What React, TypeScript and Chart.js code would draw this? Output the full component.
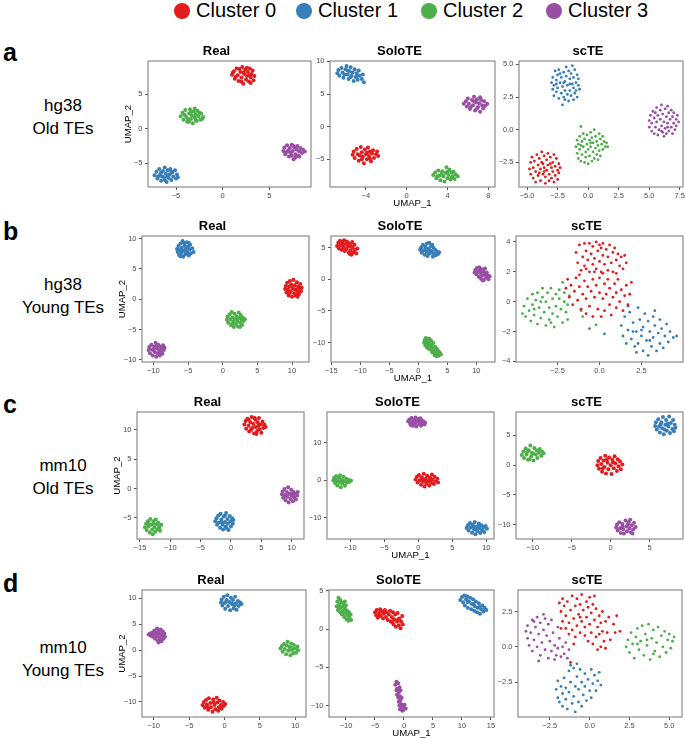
import React, { useEffect, useRef } from "react";
import { Chart, registerables } from "chart.js";
Chart.register(...registerables);

const FONT = "'Liberation Sans', Arial, Helvetica, sans-serif";
const clusterNames = ["Cluster 0", "Cluster 1", "Cluster 2", "Cluster 3"];
const clusterColors = ["#E41A1C", "#377EB8", "#4DAF4A", "#984EA3"];

// ---------- row a : hg38 Old TEs ----------
const aReal0 = "1.0,7.8 1.2,8.3 1.3,7.2 1.5,8.7 1.6,7.7 1.7,6.9 1.9,8.2 2.0,7.4 2.1,8.9 2.2,6.5 2.3,7.9 2.4,8.5 2.5,7.1 2.6,7.6 2.7,8.2 2.8,6.8 2.9,8.7 3.0,7.4 3.1,7.9 3.2,8.4 3.4,7.6 3.3,7.0 1.4,7.5 1.8,8.6 2.2,8.1 2.6,8.8 2.9,7.7 2.0,6.8 1.1,8.1 3.0,6.6";
const aReal1 = "-7.3,-6.7 -7.1,-6.2 -7.0,-7.2 -6.8,-5.8 -6.7,-6.6 -6.6,-7.5 -6.4,-6.1 -6.3,-7.0 -6.2,-5.6 -6.1,-6.5 -6.0,-7.7 -5.9,-6.0 -5.8,-7.1 -5.7,-6.6 -5.6,-5.8 -5.5,-7.4 -5.4,-6.3 -5.3,-6.9 -5.1,-6.0 -5.0,-7.2 -4.9,-6.6 -4.8,-7.0 -6.9,-6.9 -6.5,-6.9 -5.9,-6.9 -6.2,-7.4 -5.5,-6.2 -6.6,-6.3";
const aReal2 = "-4.5,1.8 -4.3,2.3 -4.2,1.3 -4.0,2.7 -3.9,1.7 -3.8,1.0 -3.6,2.2 -3.5,2.8 -3.4,1.4 -3.3,1.9 -3.2,0.8 -3.1,2.5 -3.0,1.6 -2.9,2.1 -2.8,1.1 -2.7,2.6 -2.6,1.8 -2.4,1.3 -2.3,2.2 -2.1,1.7 -3.7,1.4 -3.4,2.4 -2.9,1.3 -4.1,2.0 -2.5,2.3 -3.0,2.9 -3.6,1.0 -2.2,1.4";
const aReal3 = "6.5,-3.2 6.6,-2.7 6.7,-3.7 6.9,-2.4 7.0,-3.1 7.1,-4.0 7.2,-2.8 7.3,-3.5 7.4,-2.3 7.5,-3.2 7.6,-4.4 7.7,-2.7 7.8,-3.7 7.9,-3.0 8.0,-2.5 8.1,-3.9 8.2,-3.3 8.3,-2.8 8.5,-3.5 8.6,-3.0 8.8,-3.3 7.4,-3.9 7.8,-4.1 6.8,-3.4 7.1,-3.3 8.2,-4.0 7.6,-2.5";

const aSolo0 = "-5.3,-4.3 -5.2,-3.8 -5.1,-4.8 -4.9,-3.4 -4.8,-4.2 -4.7,-5.2 -4.5,-3.1 -4.4,-3.9 -4.3,-4.6 -4.2,-5.6 -4.1,-3.5 -4.0,-4.2 -3.9,-5.0 -3.8,-3.2 -3.7,-4.5 -3.6,-3.8 -3.5,-5.3 -3.4,-4.1 -3.3,-3.6 -3.2,-4.8 -3.0,-4.2 -2.9,-3.8 -2.8,-4.5 -4.6,-4.4 -3.9,-4.0 -4.4,-5.0 -3.6,-4.9";
const aSolo1 = "-6.8,8.2 -6.7,8.7 -6.6,7.8 -6.4,9.0 -6.3,8.3 -6.2,7.5 -6.0,8.8 -5.9,9.3 -5.8,8.0 -5.7,7.3 -5.6,8.5 -5.5,9.1 -5.4,7.8 -5.3,8.3 -5.2,7.0 -5.1,8.8 -5.0,7.6 -4.9,8.2 -4.8,7.2 -4.7,8.6 -4.6,7.8 -4.4,7.3 -4.3,8.0 -4.2,6.8 -6.1,8.0 -5.5,7.6 -4.9,7.7 -5.8,8.6";
const aSolo2 = "2.6,-7.4 2.8,-7.0 2.9,-7.9 3.1,-6.7 3.2,-7.5 3.3,-8.2 3.5,-6.8 3.6,-7.6 3.7,-8.4 3.8,-7.1 3.9,-6.2 4.0,-7.9 4.1,-7.4 4.2,-6.6 4.3,-8.1 4.4,-7.0 4.5,-7.6 4.6,-6.9 4.7,-8.0 4.8,-7.3 5.0,-7.6 3.4,-7.2 4.0,-6.9 3.0,-7.6 4.4,-7.8";
const aSolo3 = "5.6,3.5 5.8,3.9 5.9,3.1 6.0,4.3 6.1,3.5 6.2,2.7 6.4,4.1 6.5,3.3 6.6,4.6 6.7,2.5 6.8,3.7 6.9,4.2 7.0,3.0 7.1,3.6 7.2,2.3 7.3,4.1 7.4,3.3 7.5,2.8 7.6,3.9 7.7,3.2 7.9,3.5 6.3,3.0 6.9,2.8 7.2,4.5 6.6,3.9";

const aScte0 = "-4.8,-3.0 -4.7,-2.5 -4.7,-3.4 -4.6,-2.1 -4.5,-2.9 -4.5,-3.7 -4.4,-2.4 -4.3,-3.2 -4.3,-4.0 -4.2,-1.9 -4.1,-2.7 -4.1,-3.5 -4.0,-2.2 -3.9,-3.0 -3.9,-3.9 -3.8,-1.7 -3.8,-2.5 -3.7,-3.4 -3.6,-2.0 -3.6,-2.9 -3.5,-4.1 -3.5,-3.6 -3.4,-2.3 -3.4,-3.1 -3.3,-1.8 -3.3,-2.7 -3.2,-3.9 -3.2,-3.4 -3.1,-2.1 -3.0,-2.9 -3.0,-3.7 -2.9,-2.5 -2.9,-3.2 -2.8,-1.9 -2.8,-4.0 -2.7,-2.8 -2.7,-3.5 -2.6,-2.2 -2.5,-3.1 -2.5,-3.8 -2.4,-2.6 -2.4,-3.3 -2.3,-2.9 -4.0,-3.3 -3.7,-2.6 -3.1,-2.6 -3.6,-3.2";
const aScte1 = "-3.0,3.6 -2.9,3.1 -2.9,4.0 -2.8,2.6 -2.8,3.4 -2.7,4.5 -2.6,3.8 -2.6,2.9 -2.5,4.2 -2.5,3.2 -2.4,2.4 -2.4,4.6 -2.3,3.6 -2.2,2.8 -2.2,4.0 -2.1,3.3 -2.1,1.9 -2.0,4.4 -2.0,2.5 -1.9,3.7 -1.9,3.0 -1.8,4.8 -1.8,4.1 -1.7,2.7 -1.7,3.4 -1.6,4.5 -1.6,2.2 -1.5,3.9 -1.5,3.0 -1.4,4.3 -1.4,2.6 -1.3,3.5 -1.3,4.9 -1.2,3.2 -1.2,4.0 -1.1,2.8 -1.1,4.6 -1.0,3.6 -1.0,3.0 -0.9,4.2 -0.9,2.5 -0.8,3.4 -0.8,3.9 -0.7,3.1 -2.3,4.3 -1.9,2.3 -2.6,3.5 -1.5,3.5 -1.2,2.3 -2.0,3.6";
const aScte2 = "-0.6,0.25 -1.0,-1.3 -0.9,-0.8 -0.9,-1.8 -0.8,-1.1 -0.8,-2.2 -0.7,-0.5 -0.7,-1.5 -0.6,-2.4 -0.5,-0.9 -0.5,-1.9 -0.4,-0.3 -0.4,-1.3 -0.3,-2.5 -0.3,-0.7 -0.2,-1.7 -0.2,-2.1 -0.1,-0.4 -0.1,-1.1 0.0,-2.6 0.0,-1.5 0.1,-0.8 0.1,-2.0 0.2,-0.2 0.2,-1.3 0.3,-2.4 0.3,-0.6 0.4,-1.7 0.4,-1.0 0.5,-2.2 0.5,0.0 0.6,-1.4 0.6,-0.5 0.7,-1.9 0.7,-0.9 0.8,-2.3 0.8,-1.2 0.9,-0.3 0.9,-1.6 1.0,-0.7 1.0,-2.0 1.1,-1.1 1.2,-0.5 1.2,-1.5 1.3,-0.9 1.4,-1.3 1.5,-1.0 1.6,-1.3 -0.6,-1.2 0.2,-1.0";
const aScte3 = "5.0,0.7 5.0,0.2 5.1,1.1 5.2,-0.1 5.2,0.5 5.3,1.4 5.4,0.9 5.4,-0.3 5.5,0.2 5.6,1.7 5.6,0.6 5.7,1.1 5.7,-0.4 5.8,0.0 5.9,1.5 5.9,0.8 6.0,0.3 6.0,1.9 6.1,-0.2 6.1,1.2 6.2,0.6 6.2,-0.5 6.3,1.6 6.3,0.1 6.4,1.0 6.4,-0.3 6.5,0.5 6.5,1.8 6.6,1.3 6.6,-0.1 6.7,0.8 6.8,0.2 6.8,1.5 6.9,-0.3 6.9,1.0 7.0,0.5 7.0,1.3 7.1,0.0 7.2,0.8 7.2,0.3 7.3,1.1 7.4,0.6 5.5,1.3 6.0,-0.1 6.5,0.2";

// ---------- row b : hg38 Young TEs ----------
const bReal0 = "9.0,1.7 9.1,2.2 9.2,1.1 9.3,2.7 9.4,1.6 9.5,0.6 9.6,2.1 9.7,3.0 9.8,1.3 9.9,2.4 10.0,0.4 10.1,1.8 10.2,3.2 10.3,1.0 10.4,2.3 10.5,0.6 10.6,1.6 10.7,2.8 10.8,1.2 10.9,2.1 11.0,0.8 11.1,1.7 11.2,2.5 11.3,1.3 11.4,1.9 10.4,1.6 9.6,1.0 10.8,0.4";
const bReal1 = "-6.6,8.3 -6.5,7.8 -6.4,8.8 -6.3,7.3 -6.2,8.1 -6.1,9.2 -6.0,7.6 -5.9,8.5 -5.8,9.6 -5.7,7.0 -5.6,8.0 -5.5,8.9 -5.4,7.4 -5.3,8.4 -5.2,9.4 -5.1,7.7 -5.0,8.7 -4.9,7.2 -4.8,8.2 -4.7,9.0 -4.6,7.6 -4.4,8.4 -4.2,7.8 -5.8,8.0 -5.3,7.9 -5.6,9.3 -4.9,9.3 -6.1,7.1";
const bReal2 = "0.6,-3.4 0.7,-2.9 0.8,-3.9 1.0,-2.5 1.1,-3.3 1.2,-4.3 1.3,-2.1 1.4,-3.0 1.5,-3.7 1.6,-4.6 1.7,-2.4 1.8,-3.3 1.9,-4.1 2.0,-2.8 2.1,-3.6 2.2,-4.5 2.3,-2.2 2.4,-3.1 2.5,-3.9 2.6,-2.6 2.7,-3.4 2.8,-4.2 2.9,-3.0 3.0,-3.6 3.2,-3.3 1.4,-4.0 2.0,-3.3 2.5,-4.6";
const bReal3 = "-10.7,-8.4 -10.6,-7.9 -10.5,-8.9 -10.3,-7.5 -10.2,-8.3 -10.1,-9.3 -9.9,-7.8 -9.8,-8.7 -9.7,-7.2 -9.6,-9.5 -9.5,-8.1 -9.4,-8.9 -9.3,-7.5 -9.2,-8.4 -9.1,-9.3 -9.0,-7.8 -8.9,-8.7 -8.8,-8.1 -8.7,-9.0 -8.6,-7.6 -8.5,-8.4 -8.4,-8.0 -10.0,-8.4 -9.5,-7.6 -9.0,-9.0";

const bSolo0 = "-14.0,5.3 -13.8,5.8 -13.7,4.9 -13.5,6.1 -13.4,5.4 -13.2,4.7 -13.1,5.9 -12.9,5.1 -12.8,6.2 -12.7,4.5 -12.5,5.6 -12.4,4.8 -12.3,6.0 -12.1,5.2 -12.0,4.2 -11.9,5.7 -11.7,4.6 -11.6,5.3 -11.5,3.9 -11.3,5.0 -11.2,4.3 -11.0,5.5 -10.9,4.7 -10.7,4.1 -10.5,4.9 -13.0,5.5 -12.2,5.4 -11.8,4.0 -11.4,5.9";
const bSolo1 = "0.3,4.7 0.5,5.1 0.6,4.2 0.8,5.5 0.9,4.6 1.1,3.9 1.2,5.2 1.4,4.4 1.5,5.7 1.6,3.7 1.8,4.9 1.9,5.8 2.0,4.1 2.2,5.3 2.3,4.5 2.5,3.6 2.6,5.0 2.7,4.1 2.9,4.7 3.0,3.8 3.2,4.4 3.4,4.0 3.6,4.3 1.3,4.8 2.1,4.4 2.4,5.5 1.7,4.3";
const bSolo2 = "1.0,-10.0 1.1,-9.6 1.2,-10.5 1.3,-9.3 1.4,-10.1 1.5,-10.8 1.6,-9.5 1.7,-10.3 1.8,-11.0 1.9,-9.4 2.0,-9.9 2.0,-10.6 2.2,-9.7 2.2,-11.2 2.3,-10.4 2.4,-11.6 2.5,-10.9 2.6,-10.1 2.7,-11.3 2.8,-12.0 2.9,-10.7 3.0,-11.5 3.1,-12.2 3.2,-11.0 3.3,-11.8 3.4,-11.3 3.5,-12.1 3.7,-11.6 3.9,-11.9 1.5,-9.9 2.5,-11.5";
const bSolo3 = "9.7,1.1 9.8,1.5 10.0,0.8 10.1,1.8 10.3,1.2 10.4,0.4 10.5,1.9 10.7,1.0 10.8,0.1 10.9,1.6 11.0,0.6 11.2,1.3 11.3,-0.1 11.4,0.9 11.5,1.7 11.7,0.3 11.8,1.1 12.0,0.6 12.1,0.0 12.3,0.5 10.6,1.4 11.1,-0.2 11.6,0.7";

const bScte0 = "-1.4,3.3 -1.3,2.6 -1.2,3.8 -1.1,2.1 -1.0,3.0 -0.9,3.9 -0.9,2.4 -0.8,3.4 -0.7,2.8 -0.6,3.9 -0.6,2.0 -0.5,3.2 -0.4,2.5 -0.4,3.7 -0.3,2.9 -0.2,4.0 -0.2,2.2 -0.1,3.4 0.0,2.7 0.0,3.8 0.1,2.0 0.2,3.1 0.2,3.9 0.3,2.5 0.4,3.5 0.5,2.1 0.5,3.0 0.6,3.8 0.7,2.6 0.8,3.3 0.8,2.0 0.9,3.6 1.0,2.8 1.1,3.2 1.2,2.4 1.3,3.0 1.4,2.2 1.5,3.1 1.6,2.6 -0.8,2.2 0.1,3.6 -0.3,2.0 -2.0,0.9 -1.9,1.5 -1.8,0.3 -1.7,1.1 -1.6,-0.2 -1.5,0.7 -1.4,1.6 -1.3,0.1 -1.2,1.0 -1.1,-0.5 -1.0,0.5 -0.9,1.4 -0.8,-0.8 -0.8,0.2 -0.7,1.0 -0.6,-0.3 -0.5,0.7 -0.4,1.5 -0.4,-1.0 -0.3,0.3 -0.2,1.1 -0.1,-0.5 0.0,0.6 0.0,1.6 0.1,-1.0 0.2,0.2 0.3,1.2 0.3,-0.6 0.4,0.5 0.5,1.5 0.6,-0.2 0.6,0.9 0.7,-0.9 0.8,0.3 0.9,1.2 1.0,-0.4 1.0,0.6 1.1,1.5 1.2,0.0 1.3,0.8 1.4,-0.6 1.5,0.4 1.6,1.1 1.7,-0.2 1.8,0.5 1.9,1.3 -1.2,1.8 0.2,1.9 1.0,1.9";
const bScte1 = "1.3,-1.6 1.4,-2.3 1.5,-1.0 1.6,-2.8 1.7,-1.9 1.8,-0.7 1.9,-2.5 2.0,-1.4 2.1,-3.0 2.2,-2.0 2.3,-0.4 2.3,-2.8 2.4,-1.2 2.5,-2.3 2.6,-3.3 2.6,-1.7 2.7,-0.8 2.8,-2.6 2.9,-1.3 2.9,-3.6 3.0,-2.0 3.1,-3.0 3.2,-1.0 3.2,-2.4 3.3,-1.6 3.4,-3.3 3.5,-2.1 3.6,-1.2 3.6,-2.8 3.7,-1.8 3.8,-3.1 3.9,-2.3 4.0,-1.5 4.1,-2.7 4.2,-2.0 4.4,-2.4 4.6,-2.3 2.0,-2.0 2.5,-1.9 3.0,-2.6 2.2,-3.4 3.3,-0.6 -0.6,-1.8 0.3,-2.15 1.7,-0.3";
const bScte2 = "-4.6,-0.8 -4.5,-0.3 -4.4,-1.0 -4.3,0.2 -4.2,-0.6 -4.1,-1.3 -4.0,0.5 -4.0,-0.2 -3.9,-0.9 -3.8,0.1 -3.7,-1.5 -3.7,0.6 -3.6,-0.4 -3.5,-1.1 -3.4,0.3 -3.4,0.9 -3.3,-0.7 -3.2,-1.6 -3.2,0.0 -3.1,0.6 -3.0,-0.4 -3.0,-1.2 -2.9,0.9 -2.8,0.2 -2.8,-0.8 -2.7,-1.7 -2.6,-0.3 -2.6,0.5 -2.5,-1.0 -2.4,0.2 -2.4,0.8 -2.3,-0.5 -2.2,-1.4 -2.1,0.0 -2.1,0.6 -2.0,-0.7 -1.9,-1.2 -1.9,-0.2 -1.8,0.4 -3.5,0.0 -3.9,-0.5 -2.9,-1.4 -1.1,-0.6 -1.0,-1.0 -0.2,-1.55 -2.2,1.3";
const bScte3 = "";

// ---------- row c : mm10 Old TEs ----------
const cReal0 = "2.2,10.9 2.4,11.5 2.5,10.2 2.7,11.9 2.9,10.7 3.0,9.7 3.2,11.3 3.4,12.2 3.5,10.3 3.7,11.0 3.8,9.4 4.0,11.7 4.1,10.5 4.3,9.8 4.4,11.3 4.6,12.0 4.7,10.1 4.9,10.9 5.0,9.5 5.2,11.4 5.3,10.3 5.5,10.9 5.7,10.5 3.3,10.0 3.9,12.0 4.5,10.7 2.9,11.7 4.2,9.3";
const cReal1 = "-2.6,-5.6 -2.4,-5.1 -2.3,-6.2 -2.1,-4.6 -2.0,-5.8 -1.8,-6.7 -1.7,-4.3 -1.6,-5.3 -1.4,-6.2 -1.3,-7.0 -1.2,-4.8 -1.0,-5.7 -0.9,-6.5 -0.8,-4.2 -0.6,-5.2 -0.5,-6.0 -0.4,-7.1 -0.2,-4.7 -0.1,-5.6 0.0,-6.5 0.2,-5.1 0.3,-6.0 0.4,-5.4 -1.5,-5.8 -1.0,-4.6 -0.7,-6.8";
const cReal2 = "-14.2,-6.6 -14.0,-6.0 -13.9,-7.1 -13.7,-5.6 -13.6,-6.5 -13.4,-7.5 -13.3,-5.2 -13.1,-6.2 -13.0,-7.0 -12.9,-7.8 -12.8,-5.6 -12.6,-6.6 -12.5,-7.4 -12.4,-5.3 -12.2,-6.1 -12.1,-7.0 -12.0,-5.8 -11.8,-6.5 -11.7,-7.2 -11.5,-6.2 -13.5,-6.1 -12.7,-6.0 -11.9,-6.8";
const cReal3 = "8.4,-1.0 8.5,-0.5 8.6,-1.6 8.8,-0.1 8.9,-1.1 9.0,-2.0 9.2,-0.6 9.3,-1.4 9.4,0.2 9.5,-2.4 9.6,-0.9 9.8,-1.8 9.9,-0.2 10.0,-1.2 10.2,-2.2 10.3,-0.6 10.4,-1.5 10.6,-0.9 10.7,-1.9 10.9,-1.2 11.0,-0.6 9.1,-1.3 10.1,-0.9";

const cSolo0 = "-0.4,0.2 -0.2,0.9 -0.1,-0.6 0.1,1.4 0.2,0.0 0.4,-1.2 0.5,0.8 0.7,-0.4 0.8,1.7 0.9,-1.7 1.1,0.4 1.2,-0.9 1.3,1.2 1.5,-0.2 1.6,-1.4 1.7,0.7 1.9,-0.7 2.0,1.5 2.1,0.1 2.3,-1.0 2.4,0.9 2.6,-0.3 2.8,0.4 2.9,-0.6 1.0,-0.1 1.8,0.3 0.6,0.3";
const cSolo1 = "7.1,-12.8 7.3,-12.1 7.4,-13.5 7.6,-11.5 7.7,-12.7 7.9,-14.1 8.0,-11.9 8.2,-13.2 8.3,-11.2 8.4,-14.5 8.6,-12.4 8.7,-13.7 8.9,-11.6 9.0,-12.9 9.1,-14.2 9.3,-12.1 9.4,-13.4 9.6,-12.6 9.7,-13.9 9.9,-12.3 10.1,-13.0 8.1,-12.5 9.0,-12.2 8.5,-13.1";
const cSolo2 = "-12.5,-0.1 -12.4,0.6 -12.2,-0.8 -12.1,1.1 -12.0,0.0 -11.9,-1.4 -11.7,0.7 -11.6,-0.5 -11.5,1.3 -11.4,-1.9 -11.3,0.2 -11.2,-0.9 -11.0,0.9 -10.9,-0.3 -10.8,-1.5 -10.6,0.4 -10.5,-0.7 -10.3,0.1 -10.1,-0.4 -9.9,-0.1 -11.8,-0.2 -11.1,-0.2 -12.3,0.3";
const cSolo3 = "-1.5,15.8 -1.3,16.3 -1.2,15.1 -1.0,16.7 -0.9,15.6 -0.8,14.6 -0.6,16.2 -0.5,15.2 -0.4,16.8 -0.3,14.4 -0.2,15.8 0.0,16.4 0.1,15.0 0.2,15.7 0.4,14.6 0.5,16.1 0.6,15.3 0.8,15.7 0.9,14.9 1.0,15.4 -0.7,15.2 0.3,16.6 -1.1,14.8";

const cScte0 = "-1.7,0.0 -1.6,0.7 -1.5,-0.6 -1.3,1.2 -1.2,0.2 -1.1,-1.1 -0.9,0.8 -0.8,-0.3 -0.7,1.6 -0.6,-1.4 -0.4,0.4 -0.3,-0.7 -0.2,1.3 0.0,0.0 0.1,-1.5 0.2,0.9 0.4,-0.5 0.5,1.5 0.6,0.3 0.8,-1.0 0.9,1.0 1.0,-0.2 1.2,0.6 1.3,-0.7 1.5,0.1 -0.5,0.9 0.3,0.5 -1.0,-0.5";
const cScte1 = "5.7,6.6 5.8,7.2 5.9,6.0 6.1,7.7 6.2,6.5 6.3,5.5 6.5,7.2 6.6,6.2 6.7,8.1 6.8,5.2 7.0,6.8 7.1,7.6 7.2,5.8 7.4,6.5 7.5,8.2 7.6,5.4 7.7,7.1 7.9,6.1 8.0,7.6 8.1,5.7 8.2,6.8 8.3,6.3 6.4,6.9 7.3,7.0 6.9,6.0";
const cScte2 = "-11.4,1.7 -11.2,2.3 -11.1,1.2 -10.9,2.8 -10.8,1.8 -10.6,0.9 -10.5,2.5 -10.3,3.3 -10.2,1.5 -10.1,2.1 -9.9,0.8 -9.8,2.9 -9.6,1.8 -9.5,2.5 -9.4,1.2 -9.2,2.1 -9.1,2.7 -8.9,1.6 -8.8,2.3 -8.6,2.0 -10.7,2.2 -9.9,1.9 -10.4,1.0";
const cScte3 = "0.7,-10.5 0.8,-10.0 0.9,-11.0 1.1,-9.6 1.2,-10.6 1.3,-11.4 1.5,-9.9 1.6,-10.8 1.7,-11.5 1.9,-9.3 2.0,-10.3 2.1,-11.1 2.3,-9.6 2.4,-10.6 2.5,-9.2 2.6,-11.3 2.7,-10.1 2.9,-10.8 3.0,-9.7 3.2,-10.4 1.5,-10.3 2.2,-10.0 2.8,-11.5";

// ---------- row d : mm10 Young TEs ----------
const dReal0 = "-3.1,-10.6 -2.9,-10.0 -2.8,-11.1 -2.6,-9.6 -2.5,-10.5 -2.3,-11.5 -2.2,-9.3 -2.0,-10.2 -1.9,-11.0 -1.7,-11.9 -1.6,-9.5 -1.4,-10.6 -1.3,-11.4 -1.1,-9.2 -1.0,-10.1 -0.8,-11.0 -0.7,-9.7 -0.5,-10.6 -0.4,-11.3 -0.2,-10.0 -0.1,-10.8 0.1,-10.4 -2.4,-10.9 -1.5,-10.1 -0.9,-11.7";
const dReal1 = "-0.5,9.2 -0.4,9.8 -0.3,8.6 -0.1,10.3 0.0,9.1 0.1,8.0 0.3,9.7 0.4,10.6 0.5,8.5 0.7,9.3 0.8,7.7 0.9,10.1 1.1,8.9 1.2,9.7 1.3,8.1 1.5,10.3 1.6,9.0 1.7,7.8 1.9,9.5 2.0,8.5 2.2,9.2 2.4,8.9 0.2,9.3 1.0,9.0 1.4,8.6";
const dReal2 = "7.9,0.3 8.1,0.8 8.2,-0.3 8.4,1.2 8.5,0.2 8.7,-0.8 8.8,0.9 8.9,1.6 9.0,-0.1 9.2,0.6 9.3,-1.0 9.4,1.3 9.6,0.1 9.7,-0.6 9.8,1.0 10.0,0.3 10.1,-0.5 10.3,0.7 10.4,0.0 9.1,0.0 9.5,0.4";
const dReal3 = "-10.7,3.0 -10.5,3.2 -10.4,2.8 -10.2,3.4 -10.1,2.6 -10.0,3.1 -9.9,3.8 -9.8,2.2 -9.7,3.4 -9.6,2.7 -9.5,4.2 -9.4,1.8 -9.3,3.6 -9.2,2.4 -9.1,3.1 -9.0,4.0 -8.9,1.7 -8.8,2.8 -8.7,3.6 -8.6,2.2 -8.5,3.2 -8.4,2.6 -9.5,3.0 -9.0,2.0 -9.3,1.5";

const dSolo0 = "-5.0,2.2 -4.8,1.8 -4.7,2.5 -4.5,1.5 -4.3,2.1 -4.1,2.6 -4.0,1.7 -3.8,2.3 -3.6,1.4 -3.5,2.0 -3.3,2.5 -3.1,1.6 -3.0,2.2 -2.8,1.2 -2.6,1.9 -2.4,2.4 -2.3,1.0 -2.1,1.6 -1.9,2.2 -1.8,0.6 -1.7,1.3 -1.5,1.9 -1.4,0.3 -1.2,1.0 -1.1,2.1 -0.9,0.5 -0.8,1.4 -0.6,0.1 -0.5,1.0 -0.3,1.7 -0.2,0.6 -4.4,1.8 -2.0,0.9 -1.0,1.3";
const dSolo1 = "9.7,3.8 10.0,4.2 10.2,3.5 10.4,4.4 10.5,3.1 10.7,3.9 10.9,4.3 11.0,2.8 11.2,3.6 11.4,4.1 11.6,2.6 11.7,3.3 11.9,3.9 12.1,2.4 12.2,3.0 12.4,3.6 12.6,2.2 12.7,2.8 12.9,3.4 13.1,2.0 13.3,2.6 13.5,3.1 13.7,2.3 13.9,2.8 14.2,2.5 11.0,3.5 12.0,3.3 13.0,2.9";
const dSolo2 = "-11.6,3.0 -11.5,3.6 -11.4,2.5 -11.3,4.1 -11.2,3.2 -11.0,2.2 -11.0,3.8 -10.9,2.8 -10.8,3.5 -10.7,1.9 -10.6,3.0 -10.5,2.4 -10.4,3.4 -10.3,1.6 -10.2,2.7 -10.1,2.1 -10.0,3.1 -9.9,1.3 -9.8,2.4 -9.7,1.8 -9.6,1.1 -9.5,2.2 -9.4,1.5 -9.2,1.9 -9.1,1.2 -11.2,2.7 -10.6,2.0 -10.2,3.6";
const dSolo3 = "-1.5,-7.3 -1.3,-6.9 -1.2,-7.8 -1.0,-7.1 -0.9,-8.3 -1.2,-8.6 -0.8,-7.6 -1.0,-9.0 -0.7,-8.8 -0.9,-9.5 -0.6,-9.3 -0.8,-10.0 -0.5,-9.8 -0.4,-10.4 -0.7,-10.5 -0.2,-10.1 -0.1,-10.6 0.1,-9.9 0.3,-10.4 -0.4,-9.0 -1.3,-8.0 -0.6,-8.0 0.0,-10.3 -0.3,-10.7";

const dScte0 = "-1.9,3.1 -1.8,2.5 -1.7,3.4 -1.7,1.8 -1.6,2.9 -1.5,1.3 -1.5,2.2 -1.4,3.2 -1.3,0.9 -1.3,1.7 -1.2,2.6 -1.1,3.6 -1.1,1.2 -1.0,2.0 -0.9,2.9 -0.9,0.7 -0.8,1.5 -0.8,3.4 -0.7,2.3 -0.6,1.0 -0.6,3.0 -0.5,1.8 -0.5,3.7 -0.4,2.6 -0.3,0.8 -0.3,1.4 -0.2,3.2 -0.2,2.1 -0.1,0.4 -0.1,2.8 0.0,1.6 0.0,3.5 0.1,1.0 0.1,2.4 0.2,0.2 0.2,3.0 0.3,1.9 0.4,0.7 0.4,2.7 0.5,1.4 0.5,-0.2 0.6,2.2 0.6,0.9 0.7,1.7 0.7,0.0 0.8,2.5 0.8,1.1 0.9,0.4 1.0,1.8 1.0,-0.1 1.1,1.0 1.2,2.1 1.3,0.5 1.5,1.6 1.6,1.0 1.7,2.2 1.9,1.1 -1.0,0.2 0.3,3.6 -0.6,2.1 -1.8,1.3 -1.2,-1.1";
const dScte1 = "-2.1,-3.0 -2.0,-3.6 -2.0,-2.4 -1.9,-3.9 -1.8,-2.8 -1.7,-3.3 -1.7,-4.2 -1.6,-2.2 -1.5,-3.7 -1.5,-2.9 -1.4,-4.4 -1.3,-1.7 -1.3,-3.2 -1.2,-2.5 -1.1,-4.0 -1.0,-1.5 -1.0,-3.5 -0.9,-2.8 -0.9,-4.6 -0.8,-2.1 -0.7,-3.9 -0.7,-3.0 -0.6,-1.6 -0.5,-2.5 -0.5,-4.2 -0.4,-3.4 -0.3,-1.9 -0.3,-2.8 -0.2,-3.8 -0.1,-2.3 0.0,-3.1 0.1,-1.6 0.1,-3.6 0.2,-2.6 0.3,-2.0 0.4,-3.1 0.5,-2.4 0.6,-1.8 0.7,-2.7 -1.2,-1.3 -0.8,-1.2";
const dScte2 = "2.3,0.0 2.4,0.5 2.5,-0.4 2.6,1.0 2.7,0.2 2.8,-0.8 2.9,0.7 3.0,1.3 3.1,-0.2 3.2,0.4 3.3,1.5 3.4,-0.6 3.5,0.9 3.6,0.1 3.7,1.6 3.8,-0.9 3.9,0.6 4.0,1.2 4.1,-0.3 4.2,0.3 4.3,1.4 4.4,-0.7 4.5,0.8 4.6,0.0 4.7,1.1 4.8,-0.4 4.9,0.5 5.0,0.9 5.1,-0.1 5.2,0.4 5.3,0.7 3.6,0.5 4.0,-0.5 3.0,0.2";
const dScte3 = "-4.0,1.1 -3.9,0.6 -3.9,1.5 -3.8,0.1 -3.7,1.0 -3.6,1.9 -3.6,-0.3 -3.5,0.5 -3.4,1.4 -3.3,0.0 -3.3,2.1 -3.2,0.9 -3.1,-0.6 -3.1,1.7 -3.0,0.3 -2.9,1.2 -2.9,2.3 -2.8,-0.2 -2.7,0.8 -2.6,1.6 -2.6,-0.8 -2.5,0.4 -2.4,1.9 -2.4,-0.3 -2.3,1.0 -2.2,0.1 -2.1,-0.6 -2.0,1.4 -2.0,-0.1 -1.9,0.6 -1.8,-0.7 -1.7,0.0 -1.6,-0.5 -1.5,0.3 -1.4,-0.8 -1.3,-0.2 -3.2,-1.0 -2.8,2.0 -3.5,1.8 -2.2,-0.9";

// ---------- axis ranges and tick values ----------
const aRealX = [-8.0, 9.46], aRealY = [-8.41, 9.77], aRealXT = [-5, 0, 5], aRealYT = [-5, 0, 5];
const aSoloX = [-7.52, 8.66], aSoloY = [-9.23, 10.06], aSoloXT = [-4, 0, 4, 8], aSoloYT = [-5, 0, 5, 10];
const aScteX = [-5.66, 7.76], aScteY = [-4.38, 5.26], aScteXT = [-5, -2.5, 0, 2.5, 5, 7.5], aScteYT = [-2.5, 0, 2.5, 5];
const bRealX = [-11.65, 12.45], bRealY = [-10.36, 10.43], bRealXT = [-10, -5, 0, 5, 10], bRealYT = [-10, -5, 0, 5, 10];
const bSoloX = [-15.05, 13.22], bSoloY = [-13.1, 6.87], bSoloXT = [-15, -10, -5, 0, 5, 10], bSoloYT = [-10, -5, 0, 5];
const bScteX = [-4.98, 4.98], bScteY = [-4.04, 4.4], bScteXT = [-2.5, 0, 2.5], bScteYT = [-4, -2, 0, 2, 4];
const cRealX = [-15.49, 12.03], cRealY = [-8.62, 13.04], cRealXT = [-15, -10, -5, 0, 5, 10], cRealYT = [-5, 0, 5, 10];
const cSoloX = [-13.43, 11.13], cSoloY = [-15.78, 18.28], cSoloXT = [-10, -5, 0, 5, 10], cSoloYT = [-10, 0, 10];
const cScteX = [-12.14, 9.27], cScteY = [-12.42, 8.94], cScteXT = [-10, -5, 0, 5], cScteYT = [-10, -5, 0, 5];
const dRealX = [-11.64, 11.5], dRealY = [-12.9, 11.61], dRealXT = [-10, -5, 0, 5, 10], dRealYT = [-10, -5, 0, 5, 10];
const dSoloX = [-12.93, 15.52], dSoloY = [-11.51, 5.12], dSoloXT = [-10, -5, 0, 5, 10, 15], dSoloYT = [-10, -5, 0, 5];
const dScteX = [-4.5, 5.8], dScteY = [-4.96, 4.02], dScteXT = [-2.5, 0, 2.5, 5], dScteYT = [-2.5, 0, 2.5];

const rowLetters = ["a", "b", "c", "d"];
const rowGenomes = ["hg38", "hg38", "mm10", "mm10"];
const rowSets = ["Old TEs", "Young TEs", "Old TEs", "Young TEs"];

// ---------- layout (page px) ----------
const YW = 26, XH = 23, PR = 10, TH = 20;

const parsePts = (s: string) =>
  s.trim() === "" ? [] : s.trim().split(/\s+/).map((p) => {
    const [x, y] = p.split(",").map(Number);
    return { x, y };
  });

const fmt = (v: number, dec: number) => (v < 0 ? "\u2212" : "") + Math.abs(v).toFixed(dec);

const panels: any[] = [
  { title: "Real", box: [148, 61, 311, 187], xr: aRealX, yr: aRealY, xt: aRealXT, yt: aRealYT, xd: 0, yd: 0, xTitle: false, yTitle: true, r: 2.0, series: [aReal0, aReal1, aReal2, aReal3] },
  { title: "SoloTE", box: [330, 61, 495, 187], xr: aSoloX, yr: aSoloY, xt: aSoloXT, yt: aSoloYT, xd: 0, yd: 0, xTitle: true, yTitle: false, r: 2.0, series: [aSolo0, aSolo1, aSolo2, aSolo3] },
  { title: "scTE", box: [519, 61, 683, 187], xr: aScteX, yr: aScteY, xt: aScteXT, yt: aScteYT, xd: 1, yd: 1, xTitle: false, yTitle: false, r: 1.4, series: [aScte0, aScte1, aScte2, aScte3] },
  { title: "Real", box: [142, 236, 309, 362], xr: bRealX, yr: bRealY, xt: bRealXT, yt: bRealYT, xd: 0, yd: 0, xTitle: false, yTitle: true, r: 2.0, series: [bReal0, bReal1, bReal2, bReal3] },
  { title: "SoloTE", box: [331, 236, 495, 362], xr: bSoloX, yr: bSoloY, xt: bSoloXT, yt: bSoloYT, xd: 0, yd: 0, xTitle: true, yTitle: false, r: 2.0, series: [bSolo0, bSolo1, bSolo2, bSolo3] },
  { title: "scTE", box: [516, 236, 683, 362], xr: bScteX, yr: bScteY, xt: bScteXT, yt: bScteYT, xd: 1, yd: 0, xTitle: false, yTitle: false, r: 1.4, series: [bScte0, bScte1, bScte2, bScte3] },
  { title: "Real", box: [137, 412, 304, 539], xr: cRealX, yr: cRealY, xt: cRealXT, yt: cRealYT, xd: 0, yd: 0, xTitle: false, yTitle: true, r: 2.0, series: [cReal0, cReal1, cReal2, cReal3] },
  { title: "SoloTE", box: [327, 412, 494, 539], xr: cSoloX, yr: cSoloY, xt: cSoloXT, yt: cSoloYT, xd: 0, yd: 0, xTitle: true, yTitle: false, r: 2.0, series: [cSolo0, cSolo1, cSolo2, cSolo3] },
  { title: "scTE", box: [516, 412, 683, 539], xr: cScteX, yr: cScteY, xt: cScteXT, yt: cScteYT, xd: 0, yd: 0, xTitle: false, yTitle: false, r: 2.0, series: [cScte0, cScte1, cScte2, cScte3] },
  { title: "Real", box: [142, 590, 306, 717], xr: dRealX, yr: dRealY, xt: dRealXT, yt: dRealYT, xd: 0, yd: 0, xTitle: false, yTitle: true, r: 2.0, series: [dReal0, dReal1, dReal2, dReal3] },
  { title: "SoloTE", box: [329, 590, 494, 717], xr: dSoloX, yr: dSoloY, xt: dSoloXT, yt: dSoloYT, xd: 0, yd: 0, xTitle: true, yTitle: false, r: 2.0, series: [dSolo0, dSolo1, dSolo2, dSolo3] },
  { title: "scTE", box: [518, 590, 682, 717], xr: dScteX, yr: dScteY, xt: dScteXT, yt: dScteYT, xd: 1, yd: 1, xTitle: false, yTitle: false, r: 1.4, series: [dScte0, dScte1, dScte2, dScte3] },
];

const rowLabelY = [[52, 106, 129], [231, 285, 308], [404, 466, 489], [583, 648, 671]];

const boxPlugin = {
  id: "panelBorder",
  afterDraw(chart: any) {
    const { ctx, chartArea } = chart;
    ctx.save();
    ctx.strokeStyle = "#8C8C8C";
    ctx.lineWidth = 1.2;
    ctx.strokeRect(chartArea.left, chartArea.top, chartArea.right - chartArea.left, chartArea.bottom - chartArea.top);
    ctx.restore();
  },
};

function Panel({ spec }: { spec: any }) {
  const ref = useRef<HTMLCanvasElement>(null);
  const [l, t, r, b] = spec.box;
  const width = r - l + YW + PR;
  const height = b - t + TH + XH;
  useEffect(() => {
    const tickFont = { family: FONT, size: 7.5 };
    const chart = new Chart(ref.current as HTMLCanvasElement, {
      type: "scatter",
      data: {
        datasets: spec.series.map((s: string, i: number) => ({
          label: clusterNames[i],
          data: parsePts(s),
          backgroundColor: clusterColors[i],
          borderWidth: 0,
          pointRadius: spec.r,
          pointHoverRadius: spec.r,
        })),
      },
      options: {
        animation: false,
        responsive: false,
        devicePixelRatio: 1,
        events: [],
        layout: { padding: { top: 2.5, right: PR, left: 0, bottom: 0 } },
        plugins: {
          legend: { display: false },
          tooltip: { enabled: false },
          title: {
            display: true,
            text: spec.title,
            color: "#000",
            font: { family: FONT, size: 13, weight: "bold", lineHeight: 15 / 13 },
            padding: { top: 0, bottom: 2.5 },
          },
        },
        scales: {
          x: {
            type: "linear",
            min: spec.xr[0],
            max: spec.xr[1],
            afterBuildTicks: (s: any) => { s.ticks = spec.xt.map((v: number) => ({ value: v })); },
            afterFit: (s: any) => { s.height = XH; s.paddingLeft = 0; s.paddingRight = 0; },
            grid: { display: true, drawOnChartArea: false, drawTicks: true, tickLength: 3, color: "#555", lineWidth: 1 },
            border: { display: false },
            ticks: { padding: 1.5, font: tickFont, color: "#4D4D4D", maxRotation: 0, autoSkip: false, callback: (v: any) => fmt(Number(v), spec.xd) },
            title: { display: spec.xTitle, text: "UMAP_1", color: "#000", font: { family: FONT, size: 9.6, lineHeight: 1.2 }, padding: { top: 0, bottom: 0.4 } },
          },
          y: {
            type: "linear",
            min: spec.yr[0],
            max: spec.yr[1],
            afterBuildTicks: (s: any) => { s.ticks = spec.yt.map((v: number) => ({ value: v })); },
            afterFit: (s: any) => { s.width = YW; s.paddingTop = 0; s.paddingBottom = 0; },
            grid: { display: true, drawOnChartArea: false, drawTicks: true, tickLength: 3, color: "#555", lineWidth: 1 },
            border: { display: false },
            ticks: { padding: 2.5, font: tickFont, color: "#4D4D4D", autoSkip: false, callback: (v: any) => fmt(Number(v), spec.yd) },
            title: { display: spec.yTitle, text: "UMAP_2", color: "#000", font: { family: FONT, size: 9.6, lineHeight: 1.2 }, padding: { top: 0.4, bottom: 0 } },
          },
        },
      } as any,
      plugins: [boxPlugin],
    });
    return () => chart.destroy();
  }, []);
  return (
    <canvas
      ref={ref}
      width={width}
      height={height}
      style={{ position: "absolute", left: l - YW, top: t - TH, width, height }}
    />
  );
}

const legendLeft = [174, 296, 421, 546];

export default function App() {
  return (
    <div style={{ position: "absolute", left: 0, top: 0, width: 685, height: 739, background: "#fff", fontFamily: FONT, overflow: "hidden" }}>
      {clusterNames.map((n, i) => (
        <div key={n} style={{ position: "absolute", left: legendLeft[i], top: 0, height: 21, display: "flex", alignItems: "center", whiteSpace: "nowrap" }}>
          <span style={{ display: "inline-block", width: 16, height: 16, borderRadius: 8, background: clusterColors[i], marginRight: 6 }} />
          <span style={{ fontSize: 20, color: "#000", lineHeight: "21px" }}>{n}</span>
        </div>
      ))}
      {rowLetters.map((letter, i) => (
        <React.Fragment key={letter}>
          <div style={{ position: "absolute", left: 3, top: rowLabelY[i][0] - 13, fontSize: 25, fontWeight: "bold", lineHeight: "26px" }}>{letter}</div>
          <div style={{ position: "absolute", left: 13, width: 100, textAlign: "center", top: rowLabelY[i][1] - 11, fontSize: 17, lineHeight: "22px" }}>{rowGenomes[i]}</div>
          <div style={{ position: "absolute", left: 13, width: 100, textAlign: "center", top: rowLabelY[i][2] - 11, fontSize: 17, lineHeight: "22px" }}>{rowSets[i]}</div>
        </React.Fragment>
      ))}
      {panels.map((p, i) => (
        <Panel key={i} spec={p} />
      ))}
    </div>
  );
}
